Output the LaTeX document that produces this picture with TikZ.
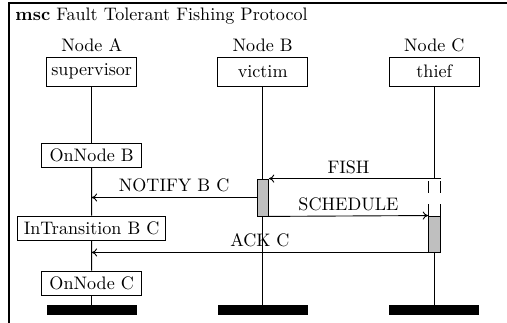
\documentclass[tikz,border=0pt]{standalone}
\usetikzlibrary{arrows.meta}
\begin{document}
\begin{tikzpicture}[x=0.5525pt,y=-0.5525pt,line width=0.5pt,
  insthead/.style={draw,rectangle,minimum width=49.7pt,minimum height=16pt,inner sep=0pt},
  instname/.style={anchor=base,inner sep=0pt},
  cond/.style={draw,rectangle,minimum width=55.3pt,minimum height=13.3pt,inner xsep=3.6pt,inner ysep=0pt},
  actbox/.style={draw,rectangle,fill=gray!50,minimum width=6.35pt,inner sep=0pt},
  suspbox/.style={rectangle,minimum width=6.35pt,minimum height=20.4pt,inner sep=0pt},
  endbar/.style={rectangle,fill=black,minimum width=49.7pt,minimum height=5.4pt,inner sep=0pt},
  msg/.style={-{To[length=3pt,width=4.5pt]}},
  msglabel/.style={anchor=base,inner sep=0pt}]
\useasboundingbox (0,0) rectangle (507,323);
% frame
\draw[line width=0.6pt] (9,323) |- (507,3);
\node[anchor=base west,inner sep=0pt] (title) at (15,20.7) {\textbf{msc} Fault Tolerant Fishing Protocol};
% instance names
\node[instname] (nA) at (91.7,52) {Node A};
\node[instname] (nB) at (262.7,52) {Node B};
\node[instname] (nC) at (434.3,52) {Node C};
% heads
\node[insthead] (sup) at (91.7,71.5) {supervisor};
\node[insthead] (vic) at (262.7,71.5) {victim};
\node[insthead] (thf) at (434.3,71.5) {thief};
% conditions
\node[cond] (c1) at (91.7,155) {OnNode B};
\node[cond] (c2) at (91.6,228) {InTransition B C};
\node[cond] (c3) at (91.7,283.2) {OnNode C};
% activations
\node[actbox,minimum height=20.4pt] (vact) at (262.7,197.5) {};
\node[actbox,minimum height=19.9pt] (tact) at (434.3,234) {};
\node[suspbox] (tsusp) at (434.3,197.5) {};
% end bars
\node[endbar] (eA) at (91.7,310.2) {};
\node[endbar] (eB) at (262.7,310.2) {};
\node[endbar] (eC) at (434.3,310.2) {};
% lifelines
\draw (sup.south) -- (c1.north);
\draw (c1.south) -- (c2.north);
\draw (c2.south) -- (c3.north);
\draw (c3.south) -- (eA.north);
\draw (vic.south) -- (vact.north);
\draw (vact.south) -- (eB.north);
\draw (thf.south) -- (tsusp.north);
\draw (tact.south) -- (eC.north);
% suspension region
\draw (tsusp.north west) -- (tsusp.north east);
\draw[dash pattern=on 6.6pt off 6.6pt] (tsusp.south west) -- (tsusp.north west);
\draw[dash pattern=on 6.6pt off 6.6pt] (tsusp.south east) -- (tsusp.north east);
% messages
\draw[msg] (tsusp.north west) -- node[msglabel,above=2.6pt] {FISH} (vact.north east);
\draw[msg] (vact.west) -- node[msglabel,above=2.6pt] {NOTIFY B C} (sup |- vact.west);
\draw[msg] (vact.south east) -- node[msglabel,above=2.6pt] {SCHEDULE} (tact.north west);
\draw[msg] (tact.south west) -- node[msglabel,above=2.6pt] {ACK C} (sup |- tact.south west);
\end{tikzpicture}
\end{document}
